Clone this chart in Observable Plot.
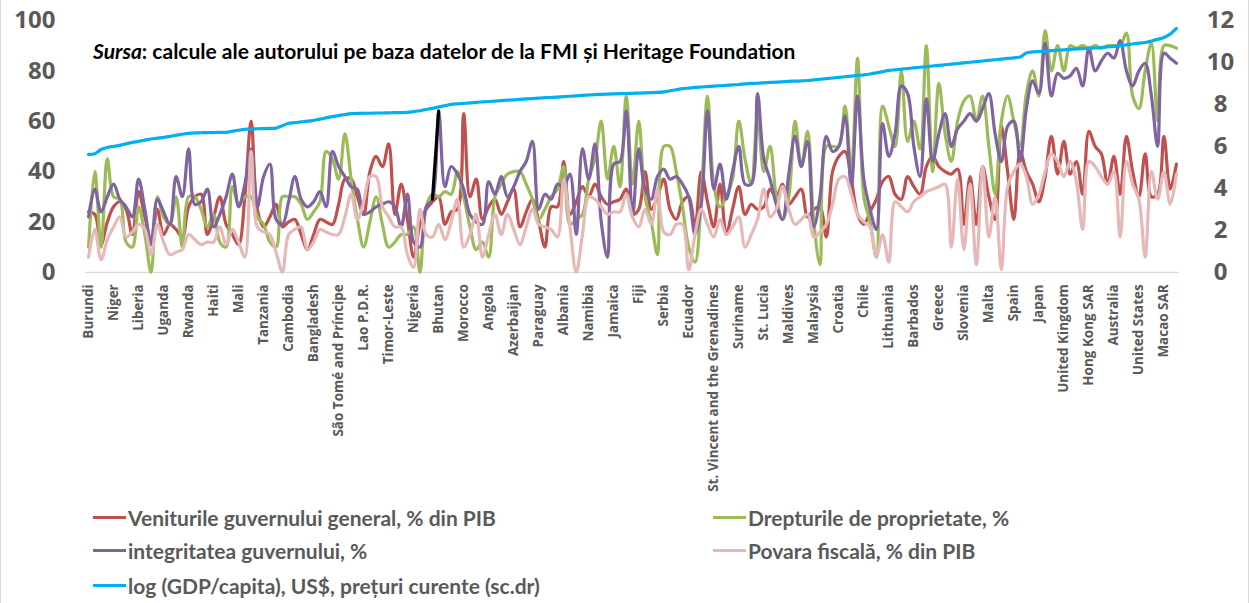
<!DOCTYPE html>
<html>
<head>
<meta charset="utf-8">
<script src="https://cdn.jsdelivr.net/npm/d3@7"></script>
<script src="https://cdn.jsdelivr.net/npm/@observablehq/plot@0.6"></script>
<style>
  html, body { margin: 0; padding: 0; background: #fff; }
  #wrap { position: relative; width: 1249px; height: 603px; overflow: hidden; box-sizing: border-box; border-left: 1px solid #d9d9d9; border-right: 1px solid #d9d9d9; }
  #chart { position: absolute; left: -1px; top: 0; }
  #source { position: absolute; left: 92px; top: 38px; font: bold 21px Lato, sans-serif; color: #000; white-space: nowrap; }
  .item { position: absolute; height: 24px; display: flex; align-items: center; font: bold 21px Lato, sans-serif; color: #595959; white-space: nowrap; }
  .swatch { width: 33px; height: 3px; margin-right: 2px; }
</style>
</head>
<body>
<div id="wrap">
  <div id="chart"></div>
  <div id="source"><i>Sursa</i>: calcule ale autorului pe baza datelor de la FMI și Heritage Foundation</div>
  <div id="legend"></div>
</div>
<script>
// Tick labels (every 4th country is labelled)
const names = ["Burundi","Niger","Liberia","Uganda","Rwanda","Haiti","Mali","Tanzania","Cambodia","Bangladesh",
  "São Tomé and Príncipe","Lao P.D.R.","Timor-Leste","Nigeria","Bhutan","Morocco","Angola","Azerbaijan","Paraguay","Albania",
  "Namibia","Jamaica","Fiji","Serbia","Ecuador","St. Vincent and the Grenadines","Suriname","St. Lucia","Maldives","Malaysia",
  "Croatia","Chile","Lithuania","Barbados","Greece","Slovenia","Malta","Spain","Japan","United Kingdom",
  "Hong Kong SAR","Australia","United States","Macao SAR"];
const labelStep = 4;

const seriesNames = ["Veniturile guvernului general, % din PIB","Drepturile de proprietate, %","integritatea guvernului, %","Povara fiscală, % din PIB","log (GDP/capita), US$, prețuri curente (sc.dr)"];

// Veniturile guvernului general, % din PIB
const revenue = [24,23,11,20,26,28,25,15,32,22, 13,25,15,19,17,14,26,30,31,15, 22,30,19,15,11,30,60,25,18,22,
  27,18,20,21,15,9,15,21,20,19, 27,37,37,30,23,40,46,42,51,23, 35,21,6,19,25,28,30,19,24,25,
  63,30,37,21,26,29,23,28,33,18, 24,29,20,10,26,26,44,23,28,34, 30,35,30,27,28,29,33,23,25,40,
  25,30,37,25,21,28,30,18,40,28, 18,35,15,25,34,23,27,25,26,33, 30,35,27,30,33,22,25,26,14,40,
  46,48,37,23,19,24,29,36,38,31, 29,38,34,31,42,46,42,40,39,41, 19,38,19,42,30,21,58,40,21,48,
  40,35,28,38,54,39,52,39,44,31, 56,50,47,35,46,31,54,40,30,47, 30,31,54,33,43];

// Drepturile de proprietate, %
const property = [10,40,10,45,30,29,12,10,26,15, 0,30,22,19,30,10,30,30,25,18, 23,12,10,34,27,30,30,22,19,12,
  10,30,30,30,27,21,24,28,48,45, 37,55,37,21,10,20,30,19,10,12, 15,15,18,0,26,31,30,32,31,40,
  30,18,9,12,6,30,35,39,40,40, 35,29,21,25,30,33,42,19,21,23, 37,45,60,37,50,34,70,35,60,30,
  20,7,50,50,40,26,10,4,30,70, 35,26,30,37,60,45,35,62,40,50, 30,21,30,60,42,56,20,3,50,50,
  50,66,40,85,30,20,6,66,58,50, 80,52,60,49,90,40,75,55,44,60, 68,70,60,70,50,31,60,70,60,50,
  71,80,70,96,80,90,80,90,89,90, 89,90,89,90,90,90,95,70,65,80, 91,60,90,90,89];

// integritatea guvernului, %
const integrity = [22,33,24,30,35,29,26,22,37,25, 11,29,24,19,38,30,49,27,28,33, 18,23,30,39,26,35,49,26,38,43,
  21,19,28,38,29,26,28,32,26,48, 42,38,34,33,23,24,26,27,28,26, 18,31,12,10,26,29,64,34,42,39,
  33,23,20,19,36,31,38,30,34,40, 44,52,25,31,29,35,34,39,15,49, 37,51,20,6,43,44,64,22,49,33,
  29,38,41,37,38,35,30,15,27,64, 33,43,29,40,50,35,35,71,45,37, 27,21,39,54,42,52,18,30,54,48,
  50,62,34,70,37,25,17,59,46,55, 74,71,50,38,69,44,55,63,50,57, 60,63,60,65,71,55,44,58,60,44,
  65,76,71,91,70,79,77,78,81,74, 89,80,84,87,85,92,80,74,80,83, 70,50,87,85,83];

// Povara fiscală, % din PIB
const taxBurden = [6,17,5,13,18,22,14,16,19,17, 7,19,12,7,8,9,15,13,11,12, 12,18,11,17,12,6,48,18,16,15,
  8,0,15,17,18,9,12,17,16,15, 15,22,31,21,28,38,38,26,22,18, 18,7,2,25,15,14,19,13,20,29,
  10,15,23,6,15,23,15,23,17,11, 18,25,19,18,17,14,37,18,0,15, 30,29,26,23,24,24,31,22,18,25,
  19,33,16,15,19,19,1,15,25,19, 14,21,15,18,22,10,15,21,33,22, 25,34,25,19,21,23,14,16,19,27,
  37,38,31,23,20,18,6,15,4,28, 26,24,28,30,32,33,34,35,10,37, 9,35,3,42,14,30,1,34,40,43,
  38,27,31,40,47,44,38,44,36,17, 44,42,38,35,40,14,44,35,29,6, 40,29,40,27,39];

// log (GDP/capita), right axis
const logGdp = [5.62,5.65,5.85,5.95,6.0,6.05,6.12,6.19,6.24,6.3, 6.35,6.39,6.43,6.48,6.53,6.58,6.62,6.64,6.65,6.66,
  6.66,6.67,6.67,6.72,6.77,6.81,6.83,6.84,6.85,6.86, 6.87,6.98,7.1,7.13,7.17,7.2,7.24,7.3,7.36,7.42,
  7.47,7.52,7.56,7.57,7.58,7.58,7.59,7.59,7.6,7.61, 7.61,7.62,7.66,7.7,7.76,7.81,7.88,7.94,8.0,8.03,
  8.05,8.07,8.1,8.12,8.14,8.16,8.18,8.2,8.22,8.24, 8.26,8.28,8.3,8.32,8.33,8.35,8.37,8.39,8.41,8.43,
  8.45,8.47,8.48,8.49,8.5,8.51,8.52,8.53,8.54,8.55, 8.56,8.57,8.6,8.65,8.7,8.75,8.78,8.81,8.83,8.85,
  8.87,8.89,8.91,8.93,8.95,8.98,9.0,9.01,9.03,9.05, 9.06,9.08,9.1,9.11,9.12,9.14,9.17,9.2,9.23,9.26,
  9.29,9.32,9.35,9.38,9.41,9.45,9.5,9.56,9.62,9.65, 9.68,9.71,9.74,9.77,9.8,9.83,9.86,9.89,9.92,9.95,
  9.98,10.01,10.04,10.07,10.1,10.13,10.16,10.19,10.22,10.26, 10.45,10.5,10.52,10.54,10.56,10.58,10.6,10.62,10.64,10.66,
  10.67,10.69,10.71,10.74,10.77,10.8,10.84,10.88,10.92,10.95, 11.02,11.1,11.19,11.35,11.62];

// highlighted (black) segment of the integrity series: Bhutan and its neighbour
const highlightIdx = [55, 56];

const leftTicks = [0, 20, 40, 60, 80, 100];
const rightTicks = [0, 2, 4, 6, 8, 10, 12];
const colors = ["#C0504D", "#9BBB59", "#8064A2", "#E6B9B8", "#00B0F0"];

const n = revenue.length;
const rightMax = 12, leftMax = 100;
const data = d3.range(n).map(i => ({
  i, revenue: revenue[i], property: property[i], integrity: integrity[i], tax: taxBurden[i],
  gdp: logGdp[i] * leftMax / rightMax
}));
const hl = data.filter(d => highlightIdx.includes(d.i));

const lineOpts = {x: "i", strokeWidth: 3.2, curve: "catmull-rom", strokeLinejoin: "round", strokeLinecap: "round"};
const txt = {fontWeight: "bold", fill: "#595959"};

const chart = Plot.plot({
  width: 1249, height: 500,
  marginLeft: 85, marginRight: 69, marginTop: 20, marginBottom: 228,
  x: {domain: [-0.5, n - 0.5]},
  y: {domain: [0, leftMax]},
  style: {fontFamily: "'Open Sans', sans-serif", background: "transparent", overflow: "visible"},
  marks: [
    Plot.ruleY([0], {stroke: "#d9d9d9", strokeWidth: 1.2}),
    Plot.axisY(leftTicks, {anchor: "left", tickSize: 0, tickPadding: 30, fontSize: 24, ...txt}),
    Plot.axisY(rightTicks.map(v => v * leftMax / rightMax), {anchor: "right", tickSize: 0, tickPadding: 41, textAnchor: "middle",
      tickFormat: d => String(Math.round(d * rightMax / leftMax)), fontSize: 24, ...txt}),
    Plot.axisX(d3.range(0, names.length * labelStep, labelStep), {anchor: "bottom", tickSize: 0, tickPadding: 12, tickRotate: -90,
      tickFormat: i => names[i / labelStep], fontSize: 13.5, ...txt, label: null}),
    Plot.line(data, {...lineOpts, y: "revenue", stroke: colors[0]}),
    Plot.line(data, {...lineOpts, y: "property", stroke: colors[1]}),
    Plot.line(data, {...lineOpts, y: "integrity", stroke: colors[2]}),
    Plot.line(hl, {x: "i", y: "integrity", stroke: "#000", strokeWidth: 3.2, strokeLinecap: "round"}),
    Plot.line(data, {...lineOpts, y: "tax", stroke: colors[3]}),
    Plot.line(data, {...lineOpts, y: "gdp", stroke: colors[4]})
  ]
});
document.getElementById("chart").appendChild(chart);

// Legend (below the SVG area)
const legendPos = [
  {left: 92, top: 505}, {left: 712, top: 505},
  {left: 92, top: 538}, {left: 712, top: 538},
  {left: 92, top: 573}
];
const legend = document.getElementById("legend");
seriesNames.forEach((name, k) => {
  const it = document.createElement("div");
  it.className = "item";
  it.style.left = legendPos[k].left + "px";
  it.style.top = legendPos[k].top + "px";
  const sw = document.createElement("span");
  sw.className = "swatch";
  sw.style.background = colors[k];
  it.appendChild(sw);
  it.appendChild(document.createTextNode(name));
  legend.appendChild(it);
});
</script>
</body>
</html>
